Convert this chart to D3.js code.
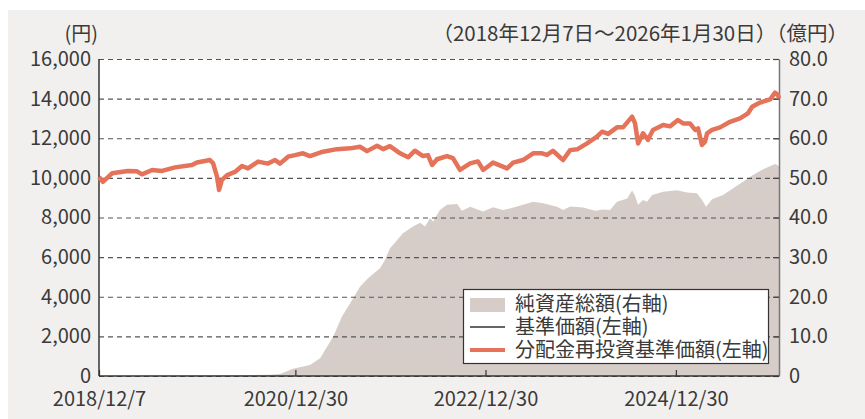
<!DOCTYPE html>
<html>
<head>
<meta charset="utf-8">
<script src="https://cdn.jsdelivr.net/npm/d3@7"></script>
<style>
  body { margin: 0; background: #fff; }
  text { font-family: "Noto Sans CJK JP", "Noto Sans", sans-serif; fill: #3a3a3a; }
</style>
</head>
<body>
<div id="chart"></div>
<script>
// values
var startDate = '2018-12-07', endDate = '2026-01-30';

// 分配金再投資基準価額 (円) - 基準価額 is the same series (no distributions paid)
var priceDates = ['2018-12-07','2018-12-22','2019-01-26','2019-03-28','2019-05-02','2019-05-21','2019-06-29','2019-08-06',
  '2019-09-25','2019-11-29','2019-12-18','2020-02-06','2020-02-18','2020-03-04','2020-03-12','2020-03-23','2020-04-12',
  '2020-05-12','2020-06-08','2020-07-01','2020-08-09','2020-09-16','2020-10-13','2020-11-01','2020-12-02','2020-12-29',
  '2021-01-28','2021-02-24','2021-04-15','2021-06-08','2021-07-28','2021-09-04','2021-10-01','2021-11-09','2021-12-02',
  '2021-12-28','2022-02-05','2022-03-08','2022-04-03','2022-05-04','2022-05-23','2022-06-08','2022-06-27','2022-08-04',
  '2022-08-27','2022-09-23','2022-11-01','2022-12-01','2022-12-21','2023-01-16','2023-01-28','2023-03-23','2023-04-15',
  '2023-05-23','2023-07-01','2023-08-04','2023-08-23','2023-09-15','2023-10-24','2023-11-20','2023-12-17','2024-01-24',
  '2024-03-02','2024-03-22','2024-04-14','2024-05-18','2024-06-10','2024-07-15','2024-07-26','2024-08-07','2024-08-26',
  '2024-09-14','2024-10-03','2024-11-11','2024-12-08','2025-01-07','2025-01-27','2025-02-22','2025-03-14','2025-03-25',
  '2025-04-09','2025-04-21','2025-04-29','2025-05-18','2025-06-18','2025-07-26','2025-09-02','2025-10-03','2025-10-19',
  '2025-11-18','2025-12-27','2026-01-15','2026-01-26','2026-01-30'];
var reinvestPrice = [10050,9800,10230,10350,10330,10180,10400,10350,
  10530,10650,10780,10900,10750,10060,9390,9900,10140,
  10300,10600,10480,10820,10720,10900,10720,11070,11150,
  11240,11100,11320,11450,11490,11570,11350,11620,11450,
  11600,11240,11040,11370,11100,11150,10650,10940,11100,
  11000,10400,10730,10830,10400,10650,10770,10480,10770,
  10900,11240,11240,11160,11370,10900,11400,11440,11740,
  12080,12330,12220,12550,12550,13090,12760,11740,12250,
  11920,12420,12670,12600,12920,12750,12750,12420,12500,
  11660,11830,12250,12420,12550,12830,13000,13260,13590,
  13800,13960,14300,14190,14000];

// 純資産総額 (億円)
var assetDates = ['2018-12-07','2020-01-26','2020-09-24','2020-11-01','2020-12-21','2021-02-24','2021-04-04','2021-05-24',
  '2021-06-27','2021-08-05','2021-09-04','2021-10-05','2021-11-20','2021-12-09','2021-12-28','2022-02-16','2022-03-27',
  '2022-04-23','2022-05-12','2022-05-31','2022-06-12','2022-07-08','2022-08-04','2022-09-12','2022-10-01','2022-11-01',
  '2022-12-21','2023-01-28','2023-03-07','2023-04-03','2023-05-23','2023-07-01','2023-08-08','2023-10-01','2023-10-24',
  '2023-11-20','2024-01-09','2024-02-24','2024-03-25','2024-04-21','2024-05-18','2024-06-26','2024-07-15','2024-07-26',
  '2024-08-07','2024-08-26','2024-09-10','2024-09-30','2024-11-11','2025-01-04','2025-02-11','2025-03-21','2025-04-09',
  '2025-04-25','2025-05-18','2025-06-29','2025-08-07','2025-09-14','2025-10-22','2025-11-30','2026-01-15','2026-01-30'];
var netAssets = [0,0.1,0.3,0.5,1.8,2.8,4.5,9.9,
  15.0,19.2,22.5,24.7,27.2,29.3,32.2,36.0,37.7,
  38.7,37.7,39.8,39.0,41.9,43.2,43.4,41.7,42.7,
  41.5,42.6,41.9,42.3,43.2,44.0,43.6,42.7,41.9,
  42.8,42.5,41.7,42.0,41.9,44.0,44.8,46.8,45.5,
  43.2,44.4,44.0,45.7,46.5,46.9,46.3,46.1,44.5,
  42.7,44.6,45.7,47.4,49.0,50.7,52.2,53.5,53.0];

var leftTicks = [0,2000,4000,6000,8000,10000,12000,14000,16000];
var rightTicks = [0,10,20,30,40,50,60,70,80];
var xTickDates = ['2018-12-07','2020-12-30','2022-12-30','2024-12-30'];
var xTickLabels = ['2018/12/7','2020/12/30','2022/12/30','2024/12/30'];
var legendLabels = ['純資産総額(右軸)','基準価額(左軸)','分配金再投資基準価額(左軸)'];

var width = 865, height = 419;
var plotLeft = 99, plotRight = 779, plotTop = 59, plotBottom = 376;

var parse = d3.timeParse('%Y-%m-%d');

var svg = d3.select('#chart').append('svg')
    .attr('width', width)
    .attr('height', height);

//panel background
svg.append('rect').attr('x', 8).attr('y', 10).attr('width', width - 8).attr('height', height - 10).attr('fill', '#f2f0ee');
svg.append('rect').attr('x', plotLeft).attr('y', plotTop).attr('width', plotRight - plotLeft).attr('height', plotBottom - plotTop).attr('fill', '#fff');

var x = d3.scaleTime().domain([parse(startDate), parse(endDate)]).range([plotLeft, plotRight]);
var yL = d3.scaleLinear().domain([0, 16000]).range([plotBottom, plotTop]);
var yR = d3.scaleLinear().domain([0, 80]).range([plotBottom, plotTop]);

var prices = priceDates.map(function(d, i){ return {date: parse(d), value: reinvestPrice[i]}; });
var assets = assetDates.map(function(d, i){ return {date: parse(d), value: netAssets[i]}; });

//net assets area
svg.append('path')
    .datum(assets)
    .attr('fill', '#d6cdc9')
    .attr('d', d3.area()
        .x(function(d){ return x(d.date); })
        .y0(plotBottom)
        .y1(function(d){ return yR(d.value); }));

//left axis + dashed grid
var gL = svg.append('g')
    .attr('transform', 'translate(' + plotLeft + ',0)')
    .call(d3.axisLeft(yL).tickValues(leftTicks).tickSize(-(plotRight - plotLeft)).tickPadding(8).tickFormat(d3.format(',')));
gL.select('.domain').remove();
gL.selectAll('line').attr('stroke', '#555').attr('stroke-dasharray', '5,4').attr('stroke-width', 1.2);
gL.selectAll('text').style('font-size', '20px').attr('fill', '#3a3a3a');

//right axis
var gR = svg.append('g')
    .attr('transform', 'translate(' + plotRight + ',0)')
    .call(d3.axisRight(yR).tickValues(rightTicks).tickSizeInner(-6).tickSizeOuter(0).tickPadding(10)
        .tickFormat(function(d){ return d === 0 ? '0' : d3.format('.1f')(d); }));
gR.select('.domain').attr('stroke', '#777').attr('stroke-width', 1.5);
gR.selectAll('line').attr('stroke', '#444').attr('stroke-width', 1.2);
gR.selectAll('text').style('font-size', '20px').attr('fill', '#3a3a3a');

//bottom axis
var gB = svg.append('g')
    .attr('transform', 'translate(0,' + plotBottom + ')')
    .call(d3.axisBottom(x).tickValues(xTickDates.map(parse)).tickSizeInner(-6).tickSizeOuter(0).tickPadding(16)
        .tickFormat(function(d, i){ return xTickLabels[i]; }));
gB.select('.domain').remove();
gB.selectAll('line').attr('stroke', '#333').attr('stroke-width', 1.2);
gB.selectAll('text').style('font-size', '20px').attr('fill', '#3a3a3a');

//axis lines
svg.append('line').attr('x1', plotLeft).attr('x2', plotLeft).attr('y1', plotTop).attr('y2', plotBottom).attr('stroke', '#333').attr('stroke-width', 1.5);
svg.append('line').attr('x1', plotLeft).attr('x2', plotRight).attr('y1', plotBottom).attr('y2', plotBottom).attr('stroke', '#333').attr('stroke-width', 1.5);

//price lines
var line = d3.line()
    .x(function(d){ return x(d.date); })
    .y(function(d){ return yL(d.value); });

svg.append('path').datum(prices).attr('fill', 'none').attr('stroke', '#333').attr('stroke-width', 1.5).attr('d', line);
svg.append('path').datum(prices).attr('fill', 'none').attr('stroke', '#e5735a').attr('stroke-width', 4.5)
    .attr('stroke-linejoin', 'round').attr('d', line);

//unit labels
svg.append('text').attr('x', 98).attr('y', 41).attr('text-anchor', 'end').style('font-size', '20px').text('(円)');
svg.append('text').attr('x', 848).attr('y', 41).attr('text-anchor', 'end').style('font-size', '20.5px')
    .text('（2018年12月7日～2026年1月30日）（億円）');

//LEGEND
var lg = svg.append('g');
lg.append('rect').attr('x', 463.5).attr('y', 289.5).attr('width', 305).attr('height', 74)
    .attr('fill', '#fff').attr('stroke', '#333').attr('stroke-width', 1.2);
lg.append('rect').attr('x', 470).attr('y', 298).attr('width', 35).attr('height', 14).attr('fill', '#d6cdc9');
lg.append('line').attr('x1', 470).attr('x2', 505).attr('y1', 327).attr('y2', 327).attr('stroke', '#333').attr('stroke-width', 1.5);
lg.append('line').attr('x1', 470).attr('x2', 505).attr('y1', 350).attr('y2', 350).attr('stroke', '#e5735a').attr('stroke-width', 4);
legendLabels.forEach(function(t, i){
    lg.append('text').attr('x', 515).attr('y', 304 + i * 23).attr('dy', '0.35em').style('font-size', '20px').text(t);
});
</script>
</body>
</html>
